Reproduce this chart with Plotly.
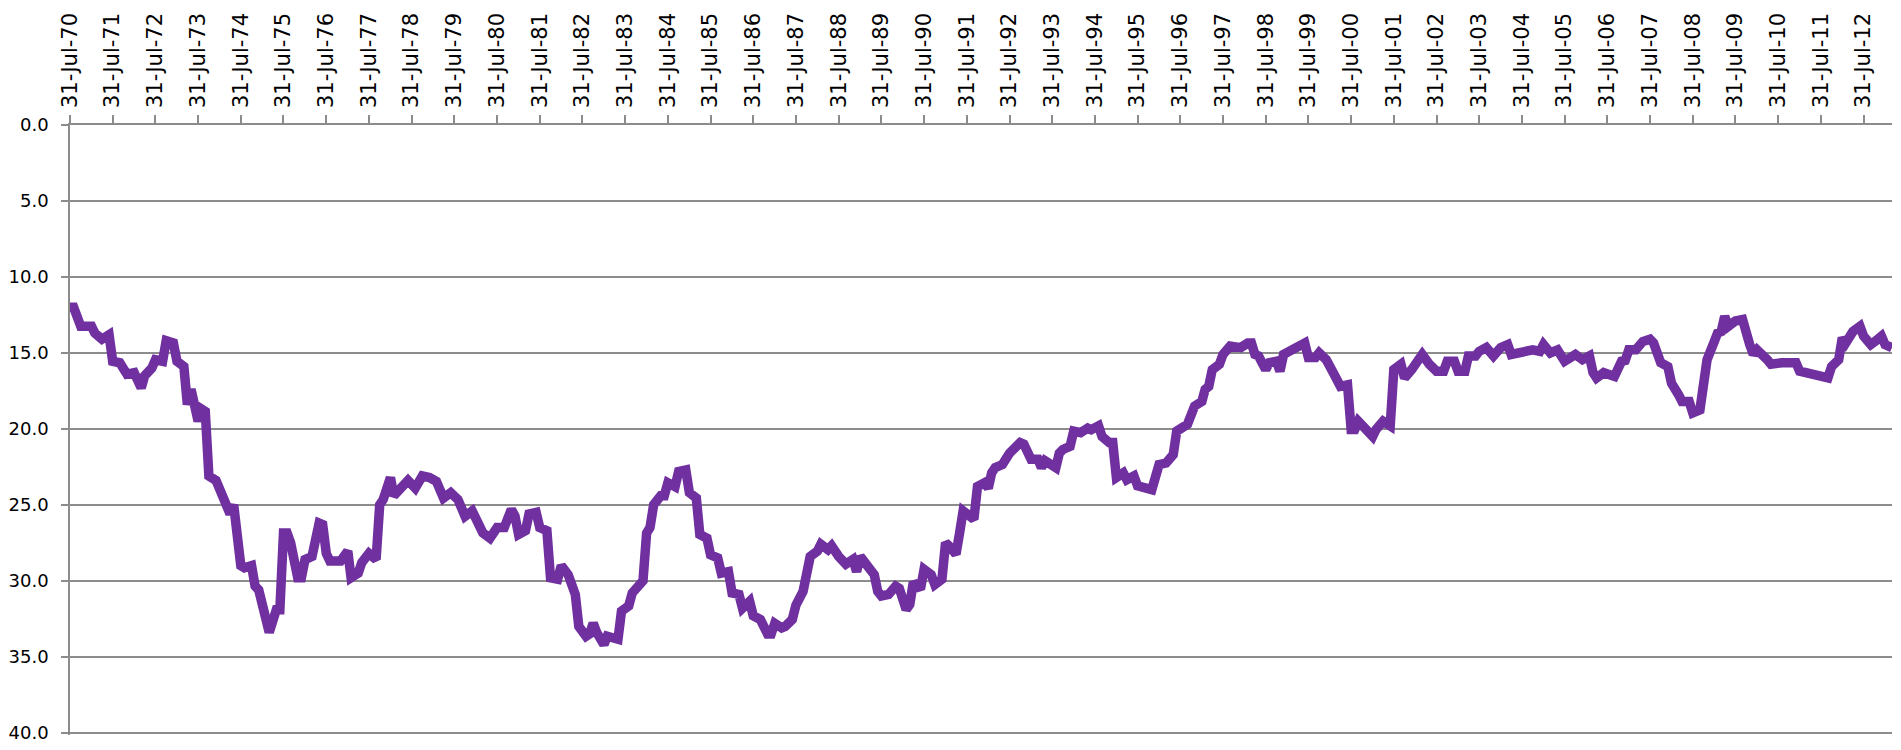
import pandas as pd
import plotly.graph_objects as go

# months since 31-Jul-1970 (month-end observations) and the series value
month_offset = [
    0, 1, 3, 6, 7, 9, 11, 12, 14, 16, 18, 20, 21, 23, 24, 26, 27, 29, 30, 32,
    33, 34, 36, 37, 38, 39, 41, 43, 44, 45, 46, 48, 49, 51, 52, 53, 56, 57, 58, 59,
    60, 61, 62, 64, 65, 66, 68, 70, 71, 72, 73, 76, 78, 79, 81, 82, 84, 86, 87, 88,
    90, 91, 93, 95, 97, 99, 101, 103, 105, 107, 109, 111, 113, 114, 116, 118, 120, 122, 124, 125,
    126, 128, 129, 131, 132, 134, 135, 137, 138, 140, 141, 142, 143, 144, 145, 146, 147, 148, 150, 151,
    153, 154, 155, 157, 158, 160, 161, 162, 163, 164, 166, 167, 168, 170, 171, 173, 174, 176, 177, 179,
    180, 182, 183, 185, 186, 188, 189, 191, 192, 194, 196, 197, 198, 200, 201, 203, 204, 206, 207, 208,
    210, 211, 213, 214, 216, 218, 220, 221, 222, 224, 226, 227, 228, 230, 232, 233, 235, 236, 237, 239,
    240, 242, 243, 245, 246, 247, 249, 250, 251, 254, 255, 257, 258, 259, 260, 262, 264, 267, 268, 270,
    272, 273, 274, 277, 278, 279, 281, 282, 284, 286, 287, 289, 290, 292, 293, 294, 296, 297, 299, 300,
    302, 304, 306, 308, 310, 311, 314, 316, 318, 319, 320, 321, 323, 324, 326, 327, 329, 331, 332, 333,
    334, 336, 337, 339, 340, 341, 343, 345, 347, 348, 350, 351, 353, 355, 356, 357, 359, 360, 361, 362,
    364, 366, 367, 369, 371, 372, 374, 375, 377, 378, 380, 382, 384, 386, 387, 389, 390, 392, 393, 395,
    396, 398, 400, 402, 404, 405, 407, 409, 411, 413, 414, 416, 418, 420, 421, 423, 425, 427, 428, 429,
    431, 433, 434, 436, 437, 438, 440, 442, 444, 445, 447, 449, 450, 452, 453, 455, 456, 458, 459, 460,
    462, 463, 464, 465, 466, 468, 470, 471, 472, 473, 474, 477, 478, 481, 483, 485, 486, 488, 490, 492,
    494, 495, 497, 498, 499, 501, 503, 504, 506, 508, 509, 510, 512,
]
values = [
    12.0, 12.0, 13.25, 13.25, 13.7, 14.1, 13.8, 15.55, 15.65, 16.4, 16.3, 17.3, 16.5, 16.0, 15.45, 15.55, 14.2, 14.35, 15.55, 15.9,
    18.4, 17.4, 19.5, 18.7, 18.85, 23.1, 23.4, 24.5, 24.75, 25.6, 25.0, 29.0, 29.15, 29.0, 30.35, 30.6, 33.4, 32.8, 31.9, 31.9,
    26.85, 26.85, 27.5, 29.8, 29.8, 28.6, 28.4, 26.2, 26.3, 28.2, 28.7, 28.7, 28.05, 29.8, 29.5, 28.8, 28.2, 28.6, 25.0, 24.65,
    23.2, 24.4, 23.9, 23.4, 23.9, 23.1, 23.2, 23.45, 24.55, 24.2, 24.65, 25.75, 25.4, 25.95, 26.85, 27.2, 26.5, 26.5, 25.3, 25.75,
    26.95, 26.7, 25.6, 25.5, 26.5, 26.7, 29.8, 29.9, 29.0, 29.6, 30.45, 30.9, 33.0, 33.4, 33.65, 33.5, 32.8, 33.4, 34.2, 33.65,
    33.75, 33.85, 32.0, 31.65, 30.8, 30.25, 30.0, 26.85, 26.5, 25.0, 24.4, 24.4, 23.55, 23.8, 22.8, 22.7, 24.2, 24.55, 26.95, 27.2,
    28.3, 28.5, 29.5, 29.4, 30.8, 30.9, 31.8, 31.35, 32.3, 32.55, 33.5, 33.5, 32.8, 33.1, 33.0, 32.55, 31.6, 30.7, 29.0, 28.4,
    28.05, 27.6, 27.95, 27.7, 28.4, 28.9, 28.6, 29.4, 28.4, 29.0, 29.6, 30.7, 31.0, 30.9, 30.35, 30.5, 31.9, 31.55, 30.1, 30.55,
    29.25, 29.6, 30.25, 29.9, 27.5, 27.7, 28.25, 26.85, 25.4, 25.95, 23.8, 23.55, 23.9, 22.9, 22.55, 22.35, 21.6, 20.9, 21.0, 22.0,
    22.0, 22.55, 22.1, 22.55, 21.6, 21.35, 21.15, 20.15, 20.25, 19.95, 20.05, 19.8, 20.5, 20.9, 20.9, 23.2, 22.9, 23.35, 23.1, 23.75,
    23.9, 24.0, 22.35, 22.25, 21.7, 20.15, 19.7, 18.5, 18.2, 17.4, 17.2, 16.1, 15.75, 15.1, 14.55, 14.55, 14.65, 14.35, 14.35, 15.1,
    15.2, 16.1, 15.65, 15.55, 16.2, 15.1, 14.8, 14.55, 14.35, 15.3, 15.3, 15.0, 15.45, 16.3, 16.75, 17.2, 17.1, 20.05, 20.05, 19.5,
    20.0, 20.5, 20.05, 19.5, 19.8, 16.1, 15.75, 16.65, 16.1, 15.75, 15.1, 15.75, 16.2, 16.2, 15.55, 15.55, 16.2, 16.2, 15.2, 15.2,
    14.9, 14.65, 15.2, 14.65, 14.45, 15.1, 15.0, 14.9, 14.8, 14.9, 14.45, 15.0, 14.8, 15.55, 15.45, 15.1, 15.45, 15.2, 16.3, 16.65,
    16.3, 16.45, 16.55, 15.55, 15.5, 14.8, 14.8, 14.25, 14.1, 14.35, 15.65, 15.9, 17.0, 17.75, 18.2, 18.2, 18.95, 18.75, 16.3, 15.45,
    14.25, 13.7, 13.6, 12.6, 13.25, 12.9, 12.8, 13.9, 14.45, 15.1, 14.8, 15.45, 15.75, 15.65, 15.65, 15.65, 16.2, 16.3, 16.55, 16.55,
    16.65, 15.9, 15.45, 14.0, 14.35, 13.6, 13.25, 13.9, 14.45, 14.1, 13.9, 14.45, 14.65,
]

tick_years = list(range(1970, 2013))
tick_dates = ['%d-07-31' % y for y in tick_years]
tick_text = ['31-Jul-%02d' % (y % 100) for y in tick_years]

month_ends = pd.date_range('1970-07-31', periods=513, freq='ME')
dates = [month_ends[k] for k in month_offset]

grey = '#8c8c8c'

fig = go.Figure(go.Scatter(
    x=dates,
    y=values,
    mode='lines',
    line=dict(color='#7030a0', width=9.5),
    hovertemplate='%{x|%d-%b-%y}: %{y:.1f}<extra></extra>',
))

# page body keeps its default 8px margin, so the figure is sized to fit inside it
fig.update_layout(
    width=1885,
    height=734,
    autosize=False,
    showlegend=False,
    paper_bgcolor='white',
    plot_bgcolor='white',
    margin=dict(l=62, r=1, t=117, b=7),
    font=dict(family='DejaVu Sans', color='black'),
    xaxis=dict(
        type='date',
        side='top',
        automargin=False,
        range=['1970-07-31', '2013-03-31'],
        tickmode='array',
        tickvals=tick_dates,
        ticktext=tick_text,
        tickangle=-90,
        tickfont=dict(family='DejaVu Sans', size=21, color='black'),
        ticks='outside',
        ticklen=8,
        tickcolor=grey,
        tickwidth=1.5,
        ticklabelstandoff=3,
        showline=True,
        linecolor=grey,
        linewidth=1.5,
        showgrid=False,
        zeroline=False,
    ),
    yaxis=dict(
        automargin=False,
        # a little past 40 so the 40.0 gridline is still drawn
        range=[40.15, 0],
        tickmode='linear',
        tick0=0,
        dtick=5,
        tickformat='.1f',
        tickfont=dict(family='DejaVu Sans', size=18, color='black'),
        ticks='outside',
        ticklen=7,
        tickcolor=grey,
        tickwidth=1.5,
        ticklabelstandoff=9,
        ticklabeloverflow='allow',
        showline=True,
        linecolor=grey,
        linewidth=1.5,
        showgrid=True,
        gridcolor=grey,
        gridwidth=1.5,
        zeroline=False,
    ),
)

fig.write_html('out.html')
